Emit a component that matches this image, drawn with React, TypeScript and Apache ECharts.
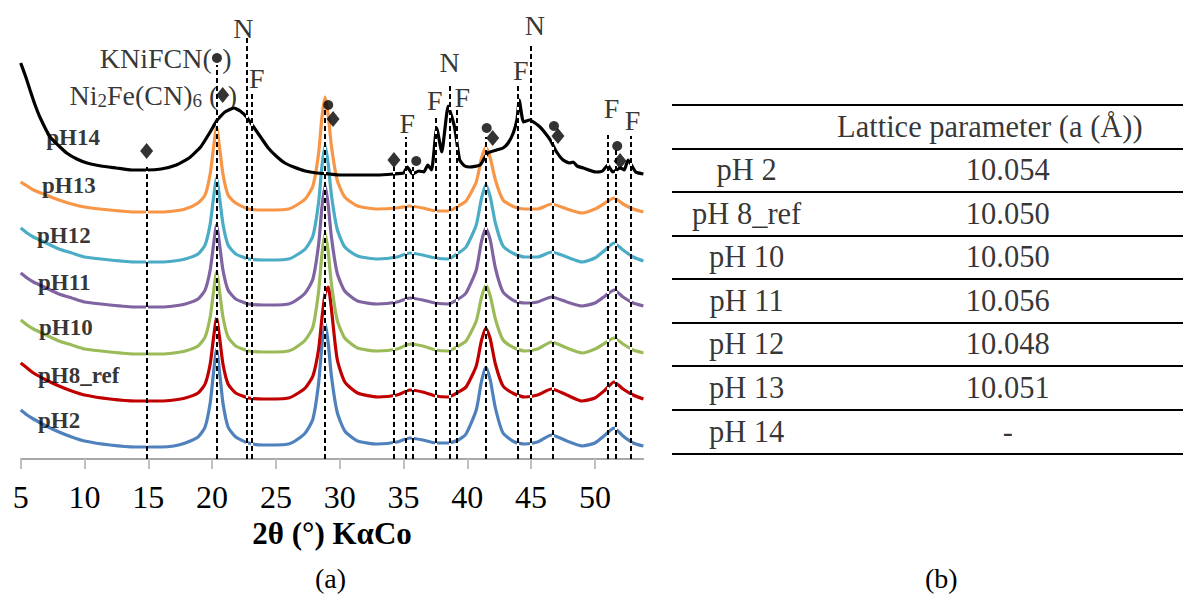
import React, { useEffect, useRef } from 'react';
import * as echarts from 'echarts';

const FONT = 'Liberation Serif, Times New Roman, serif';

// 2θ grid shared by the crystalline patterns (pH2 ... pH13)
const twoTheta = [5, 5.5, 6, 7, 8, 9, 10, 12, 14, 16, 17, 17.9, 18.9, 19.45, 19.85, 20.1, 20.35, 20.6, 20.85, 21.25, 21.85, 22.85, 24, 25, 26, 26.5, 27.3, 27.9, 28.35, 28.6, 28.85, 29.1, 29.35, 29.8, 30.4, 31.4, 33, 34.5, 35.5, 36.5, 37.5, 38.5, 39.3, 39.9, 40.7, 41.1, 41.45, 41.8, 42.2, 42.8, 43.7, 44.5, 45.5, 46.6, 47.8, 49, 50, 50.8, 51.5, 52.2, 53, 53.8];

// intensities (arbitrary units, stacked as in the figure)
const pH2 = [49, 44, 40, 33, 27, 22, 18, 14, 12, 12, 13, 16, 22, 32, 56, 85, 110, 85, 56, 32, 22, 16, 14, 14, 15, 18, 26, 40, 76, 113, 136, 116, 83, 47, 28, 18, 15, 17, 21, 19, 16, 16, 19, 25, 49, 77, 92, 79, 51, 26, 17, 15, 17, 24, 18, 13, 16, 24, 31, 23, 16, 13];
const pH8ref = [96, 91, 86, 79, 73, 68, 64, 60, 58, 58, 59, 61, 66, 75, 95, 120, 141, 120, 95, 75, 66, 61, 60, 60, 61, 64, 71, 83, 110, 140, 165, 172, 150, 100, 77, 66, 62, 64, 69, 67, 63, 62, 67, 72, 93, 118, 131, 120, 95, 73, 65, 62, 64, 70, 64, 58, 61, 69, 77, 70, 64, 60];
const pH10 = [139, 134, 130, 124, 118, 114, 110, 107, 105, 105, 106, 108, 113, 122, 142, 166, 187, 166, 142, 122, 113, 108, 107, 107, 108, 111, 119, 132, 168, 204, 226, 207, 175, 139, 121, 111, 108, 110, 115, 113, 109, 108, 113, 118, 138, 161, 174, 163, 140, 119, 111, 108, 110, 117, 111, 106, 110, 116, 121, 115, 109, 106];
const pH11 = [186, 181, 177, 171, 165, 161, 157, 154, 152, 152, 153, 155, 160, 169, 189, 213, 234, 213, 189, 169, 160, 155, 154, 154, 155, 158, 166, 180, 215, 251, 274, 254, 222, 186, 168, 158, 155, 157, 161, 159, 156, 155, 160, 166, 189, 217, 231, 219, 191, 167, 158, 156, 157, 162, 157, 153, 156, 163, 169, 162, 156, 153];
const pH12 = [231, 226, 222, 216, 210, 206, 202, 199, 197, 197, 198, 200, 205, 214, 235, 260, 281, 260, 235, 214, 205, 200, 199, 199, 200, 203, 210, 223, 257, 292, 314, 295, 264, 230, 212, 203, 200, 202, 206, 204, 201, 200, 206, 212, 234, 260, 274, 262, 236, 213, 205, 202, 202, 207, 202, 197, 201, 209, 216, 209, 202, 198];
const pH13 = [277, 273, 269, 264, 259, 255, 252, 249, 247, 247, 248, 250, 256, 264, 285, 310, 332, 310, 285, 264, 256, 250, 249, 249, 250, 253, 260, 273, 306, 341, 362, 344, 313, 279, 262, 253, 250, 251, 253, 251, 248, 248, 253, 258, 277, 300, 312, 301, 279, 259, 252, 250, 250, 255, 250, 246, 250, 256, 261, 255, 250, 247];

// pH14 pattern (own 2θ sampling)
const pH14Theta = [5, 5.4, 5.73, 6.1, 6.5, 7.3, 8.0, 8.6, 9.4, 10.2, 11.3, 12.5, 13.7, 14.9, 16.0, 17.2, 18.2, 19.1, 19.8, 20.4, 21.0, 21.7, 22.2, 22.7, 23.2, 23.8, 24.4, 25.1, 25.7, 26.4, 27.3, 28.2, 29.2, 30.0, 31.5, 33.0, 34.2, 35.0, 35.3, 35.7, 36.2, 36.6, 36.9, 37.2, 37.6, 38.0, 38.5, 39.0, 39.4, 39.8, 40.2, 41.0, 41.6, 42.3, 42.8, 43.2, 43.6, 43.9, 44.07, 44.4, 44.9, 45.3, 45.7, 46.1, 46.5, 47.0, 47.5, 48.0, 48.3, 48.6, 49.1, 50.1, 50.6, 51.0, 51.4, 52.0, 52.3, 52.6, 53.2, 53.8];
const pH14 = [396, 382, 369, 355, 342, 322, 313, 306, 300, 296, 293, 291, 289, 289, 290, 294, 301, 312, 326, 339, 347, 351, 348, 342, 333, 322, 311, 302, 296, 292, 288, 286, 285, 284, 284, 284, 285, 286, 292, 285, 288, 287, 294, 289, 331, 307, 353, 332, 299, 293, 292, 294, 306, 309, 311, 316, 326, 340, 359, 337, 339, 336, 332, 326, 319, 307, 299, 296, 297, 293, 291, 287, 288, 294, 287, 291, 289, 299, 287, 285];

const sampleNames = ['pH2', 'pH8_ref', 'pH10', 'pH11', 'pH12', 'pH13', 'pH14'];
const sampleColors = ['#4F81BD', '#C00000', '#9BBB59', '#8064A2', '#4BACC6', '#F79646', '#000000'];
// label anchor [2θ, intensity] for each sample name
const sampleLabelPos = [[6.36, 39], [6.36, 84], [6.43, 132], [6.36, 177], [6.28, 224], [6.67, 274], [7.0, 322]];

// reference reflections: [2θ, top of dashed line]
const refLines = [[14.87, 292], [20.35, 394], [22.72, 422], [23.11, 365], [28.81, 349], [34.25, 292], [35.21, 322], [35.72, 292], [37.51, 342], [38.62, 376], [39.18, 351], [41.45, 322], [43.98, 374], [44.99, 414], [46.7, 319], [51.0, 324], [51.63, 309], [52.79, 323]];
// KNiFCN (●) and Ni2Fe(CN)6 (◆) markers
const dotMarks = [[20.38, 401], [29.1, 354], [36.0, 298], [41.52, 331], [46.79, 333], [51.75, 313]];
const diamondMarks = [[14.87, 308], [20.83, 364], [29.48, 340], [34.25, 299], [41.99, 321], [47.1, 323], [51.97, 298]];
// N / F letters
const letterMarks = [[22.45, 431, 'N'], [38.62, 397, 'N'], [45.3, 434, 'N'], [23.5, 381, 'F'], [35.3, 336, 'F'], [37.45, 359, 'F'], [39.6, 362, 'F'], [44.2, 389, 'F'], [51.3, 351, 'F'], [52.95, 339, 'F']];

const xTicks = [5, 10, 15, 20, 25, 30, 35, 40, 45, 50];

// table (b)
const tableHeader = 'Lattice parameter (a (Å))';
const tableRows = ['pH 2', 'pH 8_ref', 'pH 10', 'pH 11', 'pH 12', 'pH 13', 'pH 14'];
const tableValues = ['10.054', '10.050', '10.050', '10.056', '10.048', '10.051', '-'];

export default function App() {
  const ref = useRef<HTMLDivElement>(null);
  useEffect(() => {
    const chart = echarts.init(ref.current!, null, { renderer: 'svg' });
    const crystalline = [pH2, pH8ref, pH10, pH11, pH12, pH13];
    const traceSeries: any[] = crystalline.map((arr, i) => ({
      type: 'line',
      name: sampleNames[i],
      xAxisIndex: 0,
      yAxisIndex: 0,
      data: twoTheta.map((x, j) => [x, arr[j]]),
      symbol: 'none',
      smooth: 0.2,
      silent: true,
      z: 2,
      lineStyle: { color: sampleColors[i], width: 3.2 },
    }));
    traceSeries.push({
      type: 'line',
      name: sampleNames[6],
      xAxisIndex: 0,
      yAxisIndex: 0,
      data: pH14Theta.map((x, j) => [x, pH14[j]]),
      symbol: 'none',
      smooth: 0.15,
      silent: true,
      z: 2,
      lineStyle: { color: sampleColors[6], width: 3.2 },
    });

    const lineData = refLines.map(([x, top]) => [{ coord: [x, 0] }, { coord: [x, top] }]);

    const textBase = { fontFamily: FONT, color: '#000' };

    const series: any[] = [
      ...traceSeries,
      {
        type: 'line', xAxisIndex: 0, yAxisIndex: 0, data: [], z: 3, silent: true,
        markLine: {
          silent: true, symbol: ['none', 'none'], label: { show: false },
          lineStyle: { color: '#ffffff', width: 2, type: 'solid' },
          data: lineData,
        },
      },
      {
        type: 'line', xAxisIndex: 0, yAxisIndex: 0, data: [], z: 4, silent: true,
        markLine: {
          silent: true, symbol: ['none', 'none'], label: { show: false },
          lineStyle: { color: '#000000', width: 2, type: [5, 3] },
          data: lineData,
        },
      },
      {
        type: 'scatter', xAxisIndex: 0, yAxisIndex: 0, z: 5, silent: true,
        symbol: 'circle', symbolSize: 10, itemStyle: { color: '#000' },
        data: dotMarks,
      },
      {
        type: 'scatter', xAxisIndex: 0, yAxisIndex: 0, z: 5, silent: true,
        symbol: 'diamond', symbolSize: [13, 16], itemStyle: { color: '#000' },
        data: diamondMarks,
      },
      {
        type: 'scatter', xAxisIndex: 0, yAxisIndex: 0, z: 6, silent: true,
        symbolSize: 0, itemStyle: { color: 'transparent' },
        data: letterMarks,
        label: { show: true, position: 'inside', formatter: (p: any) => p.value[2], fontSize: 28, ...textBase },
      },
      {
        type: 'scatter', xAxisIndex: 0, yAxisIndex: 0, z: 6, silent: true,
        symbolSize: 0, itemStyle: { color: 'transparent' },
        data: sampleLabelPos.map((p, i) => [p[0], p[1], sampleNames[i]]),
        label: { show: true, position: 'right', distance: 0, formatter: (p: any) => p.value[2], fontSize: 23, fontWeight: 'bold', ...textBase },
      },
      {
        type: 'scatter', xAxisIndex: 0, yAxisIndex: 0, z: 6, silent: true,
        symbolSize: 0, itemStyle: { color: 'transparent' },
        data: [
          { value: [19.97, 401], label: { position: 'left', formatter: 'KNiFCN(' } },
          { value: [20.8, 401], label: { position: 'right', formatter: ')' } },
          { value: [20.49, 364], label: { position: 'left', formatter: '{a|Ni}{s|2}{a|Fe(CN)}{s|6}{a| (}' } },
          { value: [21.22, 364], label: { position: 'right', formatter: ')' } },
        ],
        label: {
          show: true, distance: 0, fontSize: 28, ...textBase,
          rich: {
            a: { fontSize: 28, fontFamily: FONT, color: '#000', lineHeight: 30 },
            s: { fontSize: 19, fontFamily: FONT, color: '#000', lineHeight: 14, verticalAlign: 'bottom' },
          },
        },
      },
      // table (b)
      {
        type: 'scatter', xAxisIndex: 1, yAxisIndex: 1, silent: true,
        symbolSize: 0, itemStyle: { color: 'transparent' },
        data: [
          [0.622, 0, tableHeader],
          ...tableRows.map((r, i) => [0.146, i + 1, r]),
          ...tableValues.map((v, i) => [0.657, i + 1, v]),
        ],
        label: { show: true, position: 'inside', formatter: (p: any) => p.value[2], fontSize: 30.5, ...textBase },
      },
    ];

    chart.setOption({
      animation: false,
      backgroundColor: '#ffffff',
      textStyle: { fontFamily: FONT },
      grid: [
        { left: 20.7, top: 0, width: 622.7, height: 459, containLabel: false },
        { left: 672, top: 105, width: 511, height: 348.3, containLabel: false },
      ],
      xAxis: [
        {
          type: 'value', gridIndex: 0, min: 5, max: 53.8, interval: 5,
          axisLine: { show: true, onZero: false, lineStyle: { color: '#8c8c8c', width: 1.5 } },
          axisTick: { show: true, inside: false, length: 10, customValues: xTicks, lineStyle: { color: '#c0c0c0', width: 2 } },
          axisLabel: { show: true, customValues: xTicks, fontSize: 32, margin: 22, ...textBase },
          splitLine: { show: false },
          name: '2θ (°) KαCo', nameLocation: 'middle', nameGap: 59,
          nameTextStyle: { fontSize: 31, fontWeight: 'bold', ...textBase },
        },
        {
          type: 'value', gridIndex: 1, min: 0, max: 1, show: false,
        },
      ],
      yAxis: [
        { type: 'value', gridIndex: 0, min: 0, max: 459, show: false },
        {
          type: 'category', gridIndex: 1, inverse: true, boundaryGap: true,
          data: ['', ...tableRows],
          axisLine: { show: false }, axisTick: { show: false }, axisLabel: { show: false },
          splitLine: { show: true, lineStyle: { color: '#000', width: 2 } },
        },
      ],
      graphic: [
        { type: 'text', left: 315, top: 564, style: { text: '(a)', fontSize: 28, fontFamily: FONT, fill: '#000' } },
        { type: 'text', left: 925, top: 564, style: { text: '(b)', fontSize: 28, fontFamily: FONT, fill: '#000' } },
      ],
      series,
    });
    return () => chart.dispose();
  }, []);
  return <div ref={ref} style={{ position: 'absolute', left: 0, top: 0, width: 1197, height: 599 }} />;
}
